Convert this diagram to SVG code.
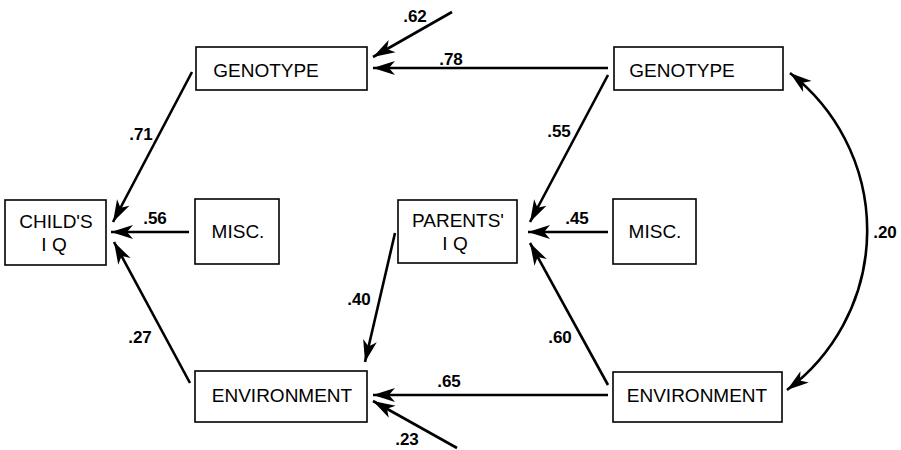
<svg xmlns="http://www.w3.org/2000/svg" width="901" height="450" viewBox="0 0 901 450">
<style>
.box{fill:#fff;stroke:#000;stroke-width:1.6}
.t{font-family:"Liberation Sans",Arial,sans-serif;font-size:19px;fill:#000;text-anchor:middle}
.l{font-family:"Liberation Sans",Arial,sans-serif;font-size:17px;font-weight:bold;fill:#000;text-anchor:middle}
.c{fill:none;stroke:#000;stroke-width:2.6;marker-end:url(#ah)}
</style>
<defs>
<marker id="ah" viewBox="-24 -9 26 18" refX="0" refY="0" markerWidth="26" markerHeight="18" markerUnits="userSpaceOnUse" orient="auto-start-reverse">
<path d="M0,0 L-22,-7 L-16,0 L-22,7 Z" fill="#000"/>
</marker>
</defs>
<g id="connectors">
<line class="c" x1="452" y1="12" x2="373" y2="57"/>
<line class="c" x1="608" y1="68" x2="373" y2="68"/>
<line class="c" x1="192" y1="72" x2="113" y2="222"/>
<line class="c" x1="189" y1="232" x2="111" y2="232"/>
<line class="c" x1="190" y1="383" x2="114" y2="242"/>
<line class="c" x1="608" y1="75" x2="530" y2="222"/>
<line class="c" x1="608" y1="232" x2="528" y2="232"/>
<line class="c" x1="608" y1="385" x2="530" y2="243"/>
<line class="c" x1="395" y1="233" x2="365" y2="362"/>
<line class="c" x1="608" y1="395" x2="373" y2="395"/>
<line class="c" x1="457" y1="448" x2="373" y2="401"/>
<path class="c" d="M790,73 A199,199 0 0 1 787,390" style="marker-start:url(#ah)"/>
<text class="l" x="415" y="22">.62</text>
<text class="l" x="451" y="65">.78</text>
<text class="l" x="141" y="140">.71</text>
<text class="l" x="155" y="224">.56</text>
<text class="l" x="140" y="343">.27</text>
<text class="l" x="559" y="137">.55</text>
<text class="l" x="577" y="224">.45</text>
<text class="l" x="560" y="343">.60</text>
<text class="l" x="359" y="305">.40</text>
<text class="l" x="449" y="387">.65</text>
<text class="l" x="407" y="445">.23</text>
<text class="l" x="885" y="238">.20</text>
</g>
<g id="child-genotype"><rect class="box" x="196" y="47" width="171" height="43"/><text class="t" x="266" y="77">GENOTYPE</text></g>
<g id="parent-genotype"><rect class="box" x="614" y="47" width="169" height="43"/><text class="t" x="682" y="77">GENOTYPE</text></g>
<g id="child-iq"><rect class="box" x="5" y="200" width="101" height="65"/><text class="t" x="56" y="228">CHILD'S</text><text class="t" x="54" y="251">I Q</text></g>
<g id="child-misc"><rect class="box" x="195" y="199" width="84" height="65"/><text class="t" x="238" y="238">MISC.</text></g>
<g id="parents-iq"><rect class="box" x="398" y="200" width="119" height="63"/><text class="t" x="458" y="227">PARENTS'</text><text class="t" x="455" y="250">I Q</text></g>
<g id="parent-misc"><rect class="box" x="613" y="199" width="83" height="65"/><text class="t" x="655" y="238">MISC.</text></g>
<g id="child-environment"><rect class="box" x="195" y="371" width="172" height="51"/><text class="t" x="282" y="402">ENVIRONMENT</text></g>
<g id="parent-environment"><rect class="box" x="613" y="372" width="169" height="50"/><text class="t" x="697" y="402">ENVIRONMENT</text></g>
</svg>
